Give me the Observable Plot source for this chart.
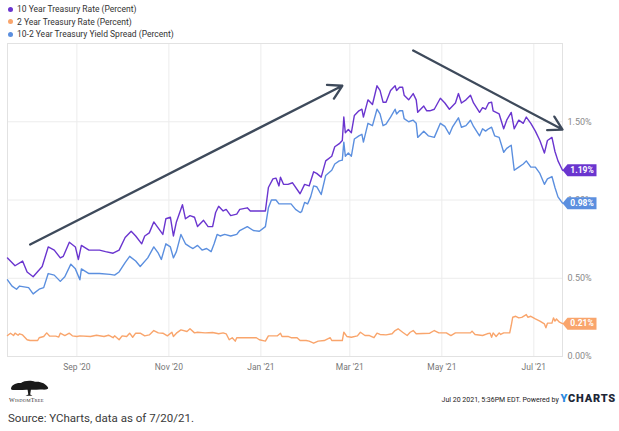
<!DOCTYPE html>
<html><head><meta charset="utf-8">
<script src="https://cdn.jsdelivr.net/npm/d3@7"></script>
<script src="https://cdn.jsdelivr.net/npm/@observablehq/plot@0.6"></script>
<style>
html,body{margin:0;padding:0;background:#fff;}
#wrap{position:relative;width:619px;height:431px;font-family:Roboto,sans-serif;overflow:hidden;background:#fff;}
#legend{position:absolute;left:0;top:0;width:619px;height:42px;}
.li{position:absolute;left:17px;font-size:8.5px;color:#333;line-height:10px;white-space:nowrap;}
.li .dot{position:absolute;left:-9.5px;top:2.5px;width:5px;height:5px;border-radius:50%;}
#chart{position:absolute;left:0;top:42px;}
#logo{position:absolute;left:6px;top:379px;}
#stamp{position:absolute;right:3px;top:393px;font-size:7px;color:#222;white-space:nowrap;line-height:12px;}
#stamp b{font-size:11px;letter-spacing:0.8px;color:#1c2636;font-weight:900;}
#stamp b span{color:#2d8be0;}
#source{position:absolute;left:8px;top:410px;font-size:11.5px;color:#3a3a3a;line-height:16px;}
</style></head>
<body><div id="wrap">
<div id="legend"></div>
<div id="chart"></div>
<svg id="logo" width="52" height="26" viewBox="0 0 52 26">
  <path d="M5,10 C5,6 10,3.5 15,4 C18,1.5 25,1 29,2.8 C34,2 40,4.5 42,8.5 C43,10 40,11 36,10.5 C32,10.2 29,11 26,10.8 L22,10.8 C19,10.5 15,11.2 11,11 C8,10.9 5.5,11.5 5,10 Z" fill="#1a1a1a"/>
  <path d="M21.5,10 L22.3,15.5 L19.5,16.8 L26.5,16.8 L24.2,15.5 L25,10 Z" fill="#1a1a1a"/>
  <text x="3" y="22.5" font-family="Liberation Serif, serif" font-size="6" fill="#333" letter-spacing="0.2">W<tspan font-size="4.6">ISDOM</tspan>T<tspan font-size="4.6">REE</tspan></text>
</svg>
<div id="stamp">Jul 20 2021, 5:36PM EDT. Powered by <b><span>Y</span>CHARTS</b></div>
<div id="source">Source: YCharts, data as of 7/20/21.</div>
</div>
<script>
// ---- data ----
const seriesNames = ["10 Year Treasury Rate (Percent)", "2 Year Treasury Rate (Percent)", "10-2 Year Treasury Yield Spread (Percent)"];
const seriesColors = ["#6a35cf", "#f9a56c", "#5b8fdf"];

const tenYear = [["2020-07-17",0.63],["2020-07-22",0.58],["2020-07-27",0.61],["2020-07-30",0.54],["2020-08-03",0.51],["2020-08-09",0.575],["2020-08-13",0.70],["2020-08-17",0.68],["2020-08-21",0.63],["2020-08-23",0.64],["2020-08-27",0.73],["2020-08-31",0.70],["2020-09-02",0.62],["2020-09-04",0.71],["2020-09-09",0.68],["2020-09-16",0.68],["2020-09-20",0.67],["2020-09-25",0.66],["2020-09-29",0.68],["2020-10-03",0.76],["2020-10-07",0.80],["2020-10-10",0.77],["2020-10-14",0.72],["2020-10-16",0.77],["2020-10-19",0.79],["2020-10-22",0.86],["2020-10-25",0.82],["2020-10-28",0.78],["2020-10-30",0.88],["2020-11-02",0.89],["2020-11-04",0.77],["2020-11-06",0.86],["2020-11-10",0.97],["2020-11-12",0.88],["2020-11-15",0.90],["2020-11-18",0.89],["2020-11-20",0.83],["2020-11-24",0.87],["2020-11-27",0.83],["2020-11-30",0.83],["2020-12-02",0.92],["2020-12-04",0.96],["2020-12-07",0.93],["2020-12-09",0.94],["2020-12-12",0.90],["2020-12-16",0.91],["2020-12-18",0.94],["2020-12-23",0.95],["2020-12-25",0.93],["2020-12-29",0.93],["2021-01-04",0.93],["2021-01-06",1.08],["2021-01-09",1.135],["2021-01-11",1.14],["2021-01-13",1.09],["2021-01-14",1.146],["2021-01-16",1.10],["2021-01-19",1.10],["2021-01-22",1.11],["2021-01-27",1.04],["2021-01-30",1.10],["2021-02-02",1.09],["2021-02-05",1.18],["2021-02-07",1.17],["2021-02-10",1.146],["2021-02-13",1.25],["2021-02-17",1.28],["2021-02-19",1.34],["2021-02-22",1.36],["2021-02-24",1.38],["2021-02-25",1.53],["2021-02-26",1.43],["2021-02-28",1.45],["2021-03-02",1.43],["2021-03-04",1.54],["2021-03-07",1.57],["2021-03-09",1.58],["2021-03-10",1.53],["2021-03-13",1.64],["2021-03-16",1.61],["2021-03-19",1.73],["2021-03-21",1.70],["2021-03-23",1.625],["2021-03-25",1.625],["2021-03-28",1.70],["2021-03-31",1.73],["2021-04-01",1.70],["2021-04-03",1.72],["2021-04-05",1.72],["2021-04-06",1.67],["2021-04-09",1.64],["2021-04-12",1.68],["2021-04-14",1.64],["2021-04-15",1.56],["2021-04-19",1.60],["2021-04-21",1.57],["2021-04-23",1.57],["2021-04-26",1.58],["2021-04-30",1.65],["2021-05-03",1.62],["2021-05-06",1.58],["2021-05-10",1.62],["2021-05-12",1.68],["2021-05-14",1.62],["2021-05-17",1.64],["2021-05-20",1.67],["2021-05-22",1.62],["2021-05-26",1.56],["2021-05-28",1.59],["2021-05-30",1.58],["2021-06-01",1.62],["2021-06-03",1.625],["2021-06-04",1.57],["2021-06-08",1.55],["2021-06-11",1.455],["2021-06-13",1.51],["2021-06-16",1.56],["2021-06-18",1.455],["2021-06-21",1.51],["2021-06-24",1.49],["2021-06-26",1.53],["2021-06-29",1.49],["2021-07-02",1.44],["2021-07-05",1.38],["2021-07-08",1.30],["2021-07-10",1.38],["2021-07-13",1.40],["2021-07-15",1.31],["2021-07-17",1.25],["2021-07-20",1.19]];

const twoYear = [["2020-07-17",0.134],["2020-07-19",0.149],["2020-07-21",0.134],["2020-07-22",0.149],["2020-07-24",0.136],["2020-07-25",0.145],["2020-07-27",0.138],["2020-07-30",0.107],["2020-08-01",0.102],["2020-08-06",0.102],["2020-08-07",0.12],["2020-08-10",0.128],["2020-08-12",0.151],["2020-08-14",0.13],["2020-08-18",0.13],["2020-08-20",0.124],["2020-08-21",0.149],["2020-08-24",0.134],["2020-08-27",0.149],["2020-08-29",0.132],["2020-09-01",0.128],["2020-09-03",0.132],["2020-09-10",0.128],["2020-09-14",0.136],["2020-09-19",0.128],["2020-09-22",0.136],["2020-09-25",0.12],["2020-09-26",0.132],["2020-09-29",0.107],["2020-10-01",0.132],["2020-10-04",0.128],["2020-10-06",0.149],["2020-10-08",0.123],["2020-10-10",0.149],["2020-10-13",0.149],["2020-10-16",0.132],["2020-10-19",0.138],["2020-10-22",0.166],["2020-10-25",0.151],["2020-10-28",0.149],["2020-10-31",0.132],["2020-11-03",0.155],["2020-11-04",0.128],["2020-11-06",0.149],["2020-11-09",0.17],["2020-11-13",0.16],["2020-11-15",0.177],["2020-11-18",0.151],["2020-11-20",0.155],["2020-11-25",0.151],["2020-11-30",0.153],["2020-12-04",0.145],["2020-12-07",0.151],["2020-12-09",0.145],["2020-12-11",0.107],["2020-12-13",0.12],["2020-12-15",0.098],["2020-12-16",0.12],["2020-12-23",0.12],["2020-12-29",0.12],["2020-12-31",0.107],["2021-01-04",0.098],["2021-01-06",0.132],["2021-01-12",0.132],["2021-01-14",0.149],["2021-01-15",0.128],["2021-01-19",0.128],["2021-01-21",0.12],["2021-01-25",0.12],["2021-01-27",0.102],["2021-01-31",0.102],["2021-02-02",0.098],["2021-02-05",0.085],["2021-02-08",0.098],["2021-02-12",0.102],["2021-02-16",0.12],["2021-02-17",0.102],["2021-02-24",0.102],["2021-02-25",0.155],["2021-02-27",0.128],["2021-03-02",0.123],["2021-03-06",0.132],["2021-03-08",0.155],["2021-03-11",0.134],["2021-03-14",0.134],["2021-03-17",0.12],["2021-03-19",0.149],["2021-03-21",0.141],["2021-03-25",0.138],["2021-03-29",0.145],["2021-03-31",0.166],["2021-04-02",0.177],["2021-04-05",0.155],["2021-04-08",0.134],["2021-04-10",0.155],["2021-04-12",0.166],["2021-04-14",0.145],["2021-04-23",0.149],["2021-04-26",0.166],["2021-04-29",0.151],["2021-05-04",0.151],["2021-05-07",0.134],["2021-05-10",0.151],["2021-05-20",0.151],["2021-05-21",0.162],["2021-05-23",0.141],["2021-05-28",0.134],["2021-05-31",0.145],["2021-06-02",0.149],["2021-06-03",0.123],["2021-06-04",0.151],["2021-06-06",0.128],["2021-06-08",0.151],["2021-06-09",0.141],["2021-06-11",0.151],["2021-06-15",0.151],["2021-06-16",0.198],["2021-06-17",0.251],["2021-06-19",0.257],["2021-06-21",0.247],["2021-06-23",0.25],["2021-06-26",0.268],["2021-06-27",0.251],["2021-06-29",0.257],["2021-07-02",0.241],["2021-07-05",0.226],["2021-07-08",0.208],["2021-07-09",0.183],["2021-07-10",0.213],["2021-07-13",0.213],["2021-07-14",0.247],["2021-07-15",0.226],["2021-07-16",0.24],["2021-07-18",0.219],["2021-07-20",0.21]];

const spread = [["2020-07-17",0.49],["2020-07-20",0.45],["2020-07-23",0.43],["2020-07-25",0.45],["2020-07-28",0.445],["2020-07-31",0.44],["2020-08-03",0.40],["2020-08-07",0.43],["2020-08-10",0.44],["2020-08-13",0.53],["2020-08-17",0.52],["2020-08-21",0.48],["2020-08-24",0.51],["2020-08-28",0.59],["2020-08-31",0.56],["2020-09-03",0.49],["2020-09-04",0.56],["2020-09-09",0.53],["2020-09-16",0.53],["2020-09-23",0.525],["2020-09-26",0.52],["2020-09-29",0.54],["2020-10-03",0.60],["2020-10-06",0.64],["2020-10-10",0.61],["2020-10-13",0.575],["2020-10-18",0.63],["2020-10-22",0.70],["2020-10-25",0.66],["2020-10-27",0.62],["2020-10-30",0.72],["2020-11-02",0.70],["2020-11-04",0.63],["2020-11-06",0.67],["2020-11-09",0.78],["2020-11-12",0.72],["2020-11-15",0.70],["2020-11-17",0.69],["2020-11-20",0.71],["2020-11-23",0.68],["2020-11-26",0.69],["2020-11-29",0.67],["2020-12-01",0.72],["2020-12-03",0.78],["2020-12-05",0.77],["2020-12-08",0.78],["2020-12-12",0.77],["2020-12-16",0.78],["2020-12-18",0.805],["2020-12-23",0.83],["2020-12-27",0.805],["2020-12-31",0.80],["2021-01-04",0.83],["2021-01-06",0.95],["2021-01-08",1.00],["2021-01-11",1.00],["2021-01-13",0.975],["2021-01-16",0.975],["2021-01-21",0.975],["2021-01-24",0.94],["2021-01-27",0.92],["2021-01-28",0.925],["2021-01-30",0.985],["2021-02-01",0.975],["2021-02-03",1.02],["2021-02-05",1.09],["2021-02-07",1.085],["2021-02-10",1.035],["2021-02-13",1.157],["2021-02-17",1.19],["2021-02-19",1.23],["2021-02-22",1.25],["2021-02-24",1.255],["2021-02-25",1.37],["2021-02-26",1.28],["2021-02-28",1.30],["2021-03-02",1.28],["2021-03-04",1.39],["2021-03-07",1.41],["2021-03-09",1.42],["2021-03-10",1.37],["2021-03-13",1.49],["2021-03-16",1.475],["2021-03-19",1.58],["2021-03-21",1.55],["2021-03-23",1.475],["2021-03-25",1.485],["2021-03-28",1.53],["2021-03-31",1.58],["2021-04-01",1.55],["2021-04-03",1.57],["2021-04-05",1.57],["2021-04-06",1.52],["2021-04-09",1.50],["2021-04-12",1.51],["2021-04-14",1.49],["2021-04-15",1.40],["2021-04-19",1.44],["2021-04-22",1.41],["2021-04-26",1.40],["2021-04-30",1.49],["2021-05-03",1.47],["2021-05-06",1.42],["2021-05-08",1.465],["2021-05-12",1.525],["2021-05-14",1.465],["2021-05-17",1.475],["2021-05-20",1.51],["2021-05-22",1.47],["2021-05-26",1.41],["2021-05-28",1.455],["2021-05-30",1.44],["2021-06-01",1.455],["2021-06-03",1.465],["2021-06-05",1.41],["2021-06-08",1.40],["2021-06-11",1.305],["2021-06-13",1.33],["2021-06-16",1.35],["2021-06-18",1.19],["2021-06-21",1.21],["2021-06-24",1.23],["2021-06-26",1.25],["2021-06-29",1.21],["2021-07-02",1.21],["2021-07-05",1.17],["2021-07-08",1.10],["2021-07-10",1.135],["2021-07-13",1.15],["2021-07-15",1.08],["2021-07-17",1.02],["2021-07-20",0.98]];

const xTickDates = ["2020-09-01","2020-11-01","2021-01-01","2021-03-01","2021-05-01","2021-07-01"];
const yTicks = [0, 0.5, 1.0, 1.5];
const xDomain = ["2020-07-17", "2021-07-20"];
const yDomain = [0, 2];
// trend arrows (annotations, in data space)
const arrowStart = [["2020-08-01", 0.716], ["2021-04-12", 1.955]];
const arrowEnd = [["2021-02-24", 1.73], ["2021-07-20", 1.45]];

// ---- build ----
const parse = d3.utcParse("%Y-%m-%d");
const toRows = arr => arr.map(([d, v]) => ({date: parse(d), value: v}));
const series = [toRows(tenYear), toRows(twoYear), toRows(spread)];
const arrows = arrowStart.map((s, i) => ({x1: parse(s[0]), y1: s[1], x2: parse(arrowEnd[i][0]), y2: arrowEnd[i][1]}));

// legend
const legend = document.getElementById("legend");
const legendTops = [4.3, 16.7, 29];
seriesNames.forEach((name, i) => {
  const el = document.createElement("div");
  el.className = "li";
  el.style.top = legendTops[i] + "px";
  el.innerHTML = `<span class="dot" style="background:${seriesColors[i]}"></span>${name}`;
  legend.appendChild(el);
});

// tag symbol for end labels
const tagSymbol = {
  draw(ctx) {
    ctx.moveTo(0, 0);
    ctx.lineTo(5, -6);
    ctx.lineTo(34, -6);
    ctx.lineTo(34, 6);
    ctx.lineTo(5, 6);
    ctx.closePath();
  }
};

const drawOrder = [1, 2, 0];
const lineMarks = drawOrder.map(i => Plot.lineY(series[i], {x: "date", y: "value", stroke: seriesColors[i], strokeWidth: 1.4}));
const endMarks = [];
drawOrder.forEach(i => {
  const last = [series[i][series[i].length - 1]];
  endMarks.push(Plot.dot(last, {x: "date", y: "value", symbol: tagSymbol, r: 4, fill: seriesColors[i]}));
  endMarks.push(Plot.text(last, {x: "date", y: "value", text: d => d.value.toFixed(2) + "%", dx: 19.5, fill: "white", fontWeight: "bold", fontSize: 8.5}));
});

const chart = Plot.plot({
  width: 619,
  height: 336,
  marginTop: 1,
  marginBottom: 22,
  marginLeft: 7,
  marginRight: 57,
  style: {fontFamily: "Roboto, sans-serif", fontSize: "8px", background: "transparent", color: "#7a7a7a", overflow: "visible"},
  x: {type: "utc", domain: xDomain.map(parse)},
  y: {domain: yDomain},
  marks: [
    Plot.gridY(yTicks, {stroke: "#ececec", strokeOpacity: 1}),
    Plot.gridX(xTickDates.map(parse), {stroke: "#ececec", strokeOpacity: 1}),
    Plot.frame({stroke: "#e2e2e2"}),
    Plot.axisY(yTicks, {anchor: "right", tickSize: 0, tickPadding: 5, tickFormat: d => d.toFixed(2) + "%", label: null, fill: "#8a8a8a", fontSize: 9}),
    Plot.axisX(xTickDates.map(parse), {tickSize: 0, tickPadding: 7, tickFormat: d3.utcFormat("%b '%y"), label: null, fill: "#777", fontSize: 8.5}),
    ...lineMarks,
    Plot.arrow(arrows, {x1: "x1", y1: "y1", x2: "x2", y2: "y2", stroke: "#3e4a5b", strokeWidth: 2.3, headLength: 10}),
    ...endMarks
  ]
});
document.getElementById("chart").appendChild(chart);
</script>
</body></html>
